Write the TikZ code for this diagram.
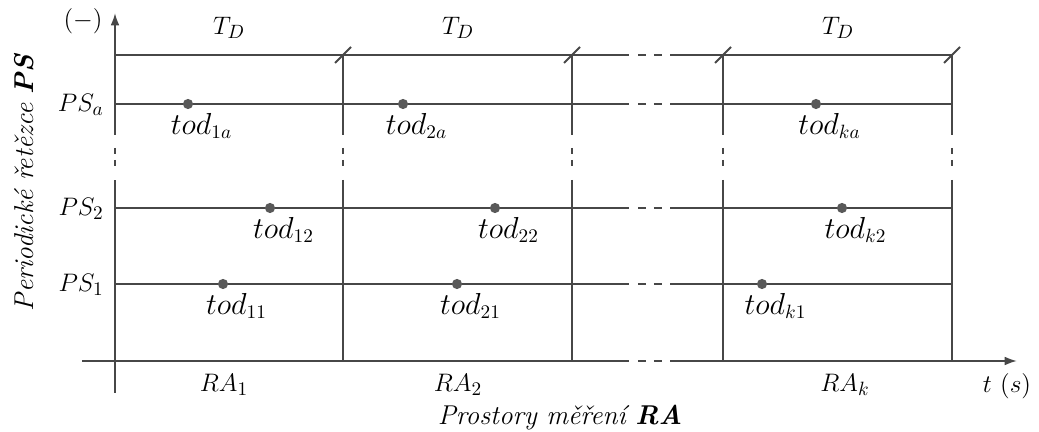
\documentclass[tikz,border=0pt]{standalone}
\usetikzlibrary{arrows.meta,positioning}

\tikzset{
    gridline/.style={line width=1.1pt, draw=black!72},
    gapx/.style={gridline, dash pattern=on 4.55pt off 4.55pt},
    gapy/.style={gridline, dash pattern=on 3.4pt off 3.4pt},
    axis/.style={gridline, -{Latex[length=7pt,width=5pt]}},
    dot/.style={circle, fill=black!65, inner sep=0pt, minimum size=5.8pt},
    todlbl/.style={xshift=0.27cm, yshift=-1pt, inner sep=1pt, font=\fontsize{16}{19}\selectfont},
    lbl/.style={font=\fontsize{15.5}{18}\selectfont, inner sep=0pt},
    title/.style={font=\fontsize{15.5}{18}\selectfont\itshape, inner sep=0pt}
}

\begin{document}
\begin{tikzpicture}[x=0.02cm, y=-0.02cm]
    \useasboundingbox (0,0) rectangle (1039,432);

    % axes
    \coordinate (o) at (115,361);
    \draw[gridline] (115,393) -- (115,180);
    \draw[gapy] (115,148) -- (115,167);
    \draw[axis] (115,135) -- (115,13);
    \draw[gridline] (82,361) -- (629,361);
    \draw[gapx] (638,361) -- (662,361);
    \draw[axis] (670,361) -- (1017,361);

    % rows
    \foreach \y in {55,104,208,284} {
        \draw[gridline] (115,\y) -- (629,\y) (670,\y) -- (952,\y);
        \draw[gapx] (638,\y) -- (662,\y);
    }

    % periods
    \foreach \x in {343,572,723,952} {
        \draw[gridline] (\x,55) -- (\x,135) (\x,180) -- (\x,361);
        \draw[gapy] (\x,148) -- (\x,167);
        \draw[gridline] (\x-8,63) -- (\x+8,47);
    }

    % row labels
    \node[lbl, anchor=east] (psa) at (104,105) {$PS_a$};
    \node[lbl, anchor=east] (ps2) at (104,209) {$PS_2$};
    \node[lbl, anchor=east] (ps1) at (104,285) {$PS_1$};
    \node[lbl] (unit) at (83,21) {$(-)$};

    % period labels
    \node[lbl] (td1) at (229,28) {$T_D$};
    \node[lbl] (td2) at (458,28) {$T_D$};
    \node[lbl] (tdk) at (838,28) {$T_D$};

    % detections
    \node[dot, label={[todlbl]below:$tod_{1a}$}] (t1a) at (188,104) {};
    \node[dot, label={[todlbl]below:$tod_{2a}$}] (t2a) at (403,104) {};
    \node[dot, label={[todlbl]below:$tod_{ka}$}] (tka) at (816,104) {};
    \node[dot, label={[todlbl]below:$tod_{12}$}] (t12) at (270,208) {};
    \node[dot, label={[todlbl]below:$tod_{22}$}] (t22) at (495,208) {};
    \node[dot, label={[todlbl]below:$tod_{k2}$}] (tk2) at (842,208) {};
    \node[dot, label={[todlbl]below:$tod_{11}$}] (t11) at (223,284) {};
    \node[dot, label={[todlbl]below:$tod_{21}$}] (t21) at (457,284) {};
    \node[dot, label={[todlbl]below:$tod_{k1}$}] (tk1) at (762,284) {};

    % spaces
    \node[lbl] (ra1) at (224,385) {$RA_1$};
    \node[lbl] (ra2) at (458,385) {$RA_2$};
    \node[lbl] (rak) at (845,385) {$RA_k$};
    \node[lbl] (time) at (1007,386) {$t~(s)$};

    % axis titles
    \node[title] (xtitle) at (560,418) {Prostory měření \textbf{RA}};
    \node[title, rotate=90] (ytitle) at (24,183) {Periodické řetězce \textbf{PS}};
\end{tikzpicture}
\end{document}
